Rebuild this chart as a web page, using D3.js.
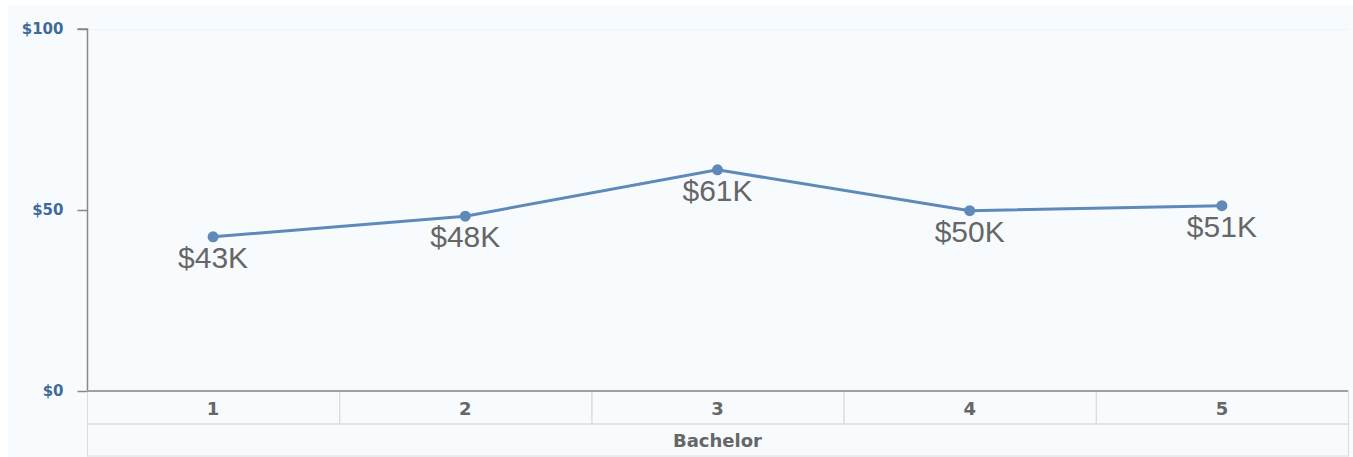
<!DOCTYPE html>
<html><head><meta charset="utf-8">
<script src="https://cdn.jsdelivr.net/npm/d3@7"></script>
<style>body{margin:0;background:#fff;}svg{display:block;}</style>
</head><body>
<svg id="c" width="1353" height="457"></svg>
<script>
const categories = ["1","2","3","4","5"];
const salaries = [42.6, 48.3, 61.1, 49.8, 51.2];
const yTicks = [0, 50, 100];
const groupLabel = "Bachelor";

const svg = d3.select("#c");
const W = 1353, H = 457;
const m = {left:87, right:1348, top:29, bottom:391};
const boldFont = "DejaVu Sans, Verdana, sans-serif";
svg.append("rect").attr("x",8).attr("y",5).attr("width",W-8).attr("height",H-5).attr("fill","#f7fbfe");

const x = d3.scaleBand().domain(categories).range([m.left, m.right]).padding(0);
const y = d3.scaleLinear().domain([0,100]).range([m.bottom, m.top]);

// top gridline
svg.append("line").attr("x1",m.left).attr("x2",m.right).attr("y1",y(100)+0.5).attr("y2",y(100)+0.5).attr("stroke","#eef3f8");

// y axis
const ya = d3.axisLeft(y).tickValues(yTicks).tickSize(10).tickPadding(14).tickFormat(d=>"$"+d);
const gy = svg.append("g").attr("transform",`translate(${m.left+0.5},0)`).call(ya);
gy.select(".domain").attr("stroke","#888").attr("stroke-width",1.5).attr("d",`M-10,${m.top}H0V${m.bottom}`);
gy.selectAll(".tick line").attr("stroke","#888").attr("stroke-width",1.5);
gy.selectAll(".tick text").attr("fill","#3e6a98").attr("font-family",boldFont).attr("font-weight","bold").attr("font-size","15px");

// x category table
const rowH = 33;
const tb = svg.append("g");
tb.selectAll("rect.cell").data(categories).join("rect").attr("class","cell")
  .attr("x",d=>x(d)+0.5).attr("y",m.bottom).attr("width",x.bandwidth()).attr("height",rowH)
  .attr("fill","none").attr("stroke","#dcdcdc");
tb.append("rect").attr("x",m.left+0.5).attr("y",m.bottom+rowH).attr("width",m.right-m.left).attr("height",H-1-(m.bottom+rowH))
  .attr("fill","none").attr("stroke","#dcdcdc");
tb.selectAll("text.cat").data(categories).join("text").attr("class","cat")
  .attr("x",d=>x(d)+x.bandwidth()/2).attr("y",m.bottom+rowH/2+7).attr("text-anchor","middle")
  .attr("fill","#666").attr("font-family",boldFont).attr("font-weight","bold").attr("font-size","18px")
  .text(d=>d);
tb.append("text").attr("x",(m.left+m.right)/2).attr("y",m.bottom+rowH+rowH/2+6).attr("text-anchor","middle")
  .attr("fill","#666").attr("font-family",boldFont).attr("font-weight","bold").attr("font-size","18px")
  .text(groupLabel);
// x baseline
svg.append("line").attr("x1",m.left).attr("x2",m.right).attr("y1",m.bottom).attr("y2",m.bottom).attr("stroke","#888").attr("stroke-width",1.5);

// line
const cx = d=>x(d)+x.bandwidth()/2;
const line = d3.line().x((d,i)=>cx(categories[i])).y(d=>y(d));
svg.append("path").datum(salaries).attr("d",line).attr("fill","none").attr("stroke","#5f89b8").attr("stroke-width",3);
svg.selectAll("circle.pt").data(salaries).join("circle").attr("class","pt")
  .attr("cx",(d,i)=>cx(categories[i])).attr("cy",d=>y(d)).attr("r",5.5).attr("fill","#5f89b8");
svg.selectAll("text.lbl").data(salaries).join("text").attr("class","lbl")
  .attr("x",(d,i)=>cx(categories[i])).attr("y",d=>y(d)+31).attr("text-anchor","middle")
  .attr("fill","#666").attr("font-family","Liberation Sans, Arial, sans-serif").attr("font-size","30px")
  .text(d=>"$"+Math.round(d)+"K");
</script>
</body></html>
